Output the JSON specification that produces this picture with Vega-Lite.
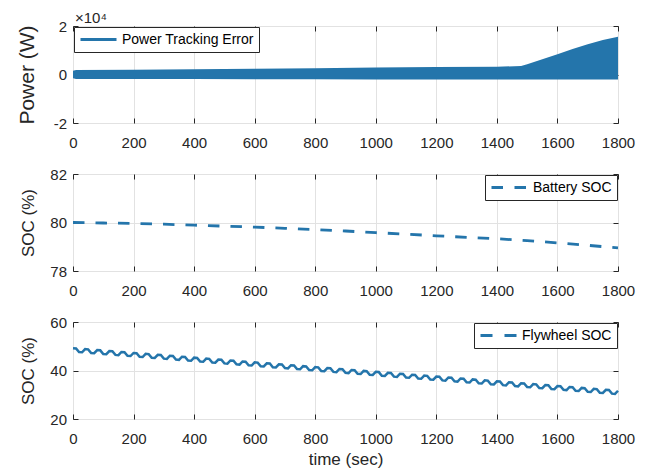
{
  "$schema": "https://vega.github.io/schema/vega-lite/v6.json",
  "padding": {"left": 15, "top": 10, "right": 10, "bottom": 5},
  "background": "white",
  "bounds": "flush",
  "spacing": 51,
  "config": {
    "font": "Liberation Sans",
    "view": {"stroke": "#262626", "strokeWidth": 1},
    "axis": {
      "labelFont": "Liberation Sans", "labelFontSize": 15, "labelColor": "#262626",
      "titleFont": "Liberation Sans", "titleFontWeight": "normal", "titleColor": "#262626",
      "tickColor": "#262626", "gridColor": "#e2e2e2", "domain": false, "labelFlush": false, "labelOverlap": false, "format": "d"
    },
    "legend": {
      "labelFont": "Liberation Sans", "labelFontSize": 14, "labelColor": "#000000",
      "strokeColor": "#262626", "fillColor": "white", "padding": 5, "offset": 1,
      "symbolStrokeWidth": 3, "symbolSize": 144, "labelOffset": 28, "cornerRadius": 0
    }
  },
  "datasets": {
    "power": [
      {"t": 0, "lo": -1500, "hi": 1500},
      {"t": 10, "lo": -1900, "hi": 1900},
      {"t": 200, "lo": -1900, "hi": 2000},
      {"t": 400, "lo": -1900, "hi": 2200},
      {"t": 600, "lo": -2000, "hi": 2400},
      {"t": 800, "lo": -2000, "hi": 2600},
      {"t": 1000, "lo": -2100, "hi": 2900},
      {"t": 1200, "lo": -2100, "hi": 3100},
      {"t": 1400, "lo": -2100, "hi": 3200},
      {"t": 1480, "lo": -2100, "hi": 3500},
      {"t": 1500, "lo": -2100, "hi": 4200},
      {"t": 1550, "lo": -2100, "hi": 6300},
      {"t": 1600, "lo": -2100, "hi": 8400},
      {"t": 1650, "lo": -2100, "hi": 10500},
      {"t": 1700, "lo": -2100, "hi": 12500},
      {"t": 1750, "lo": -2100, "hi": 14200},
      {"t": 1800, "lo": -2100, "hi": 15600}
    ],
    "battery": [
      {"t": 0, "v": 80.00}, {"t": 100, "v": 79.98}, {"t": 200, "v": 79.96}, {"t": 300, "v": 79.93},
      {"t": 400, "v": 79.89}, {"t": 500, "v": 79.85}, {"t": 600, "v": 79.81}, {"t": 700, "v": 79.76},
      {"t": 800, "v": 79.71}, {"t": 900, "v": 79.65}, {"t": 1000, "v": 79.58}, {"t": 1100, "v": 79.52},
      {"t": 1200, "v": 79.45}, {"t": 1300, "v": 79.39}, {"t": 1400, "v": 79.33}, {"t": 1500, "v": 79.25},
      {"t": 1600, "v": 79.16}, {"t": 1700, "v": 79.06}, {"t": 1800, "v": 78.95}
    ],
    "flywheel": [
      {"t":0,"v":49.2},{"t":10,"v":49.1},{"t":20,"v":47.61},{"t":30,"v":47.51},
      {"t":40,"v":48.81},{"t":50,"v":48.71},{"t":60,"v":47.22},{"t":70,"v":47.12},
      {"t":80,"v":48.42},{"t":90,"v":48.32},{"t":100,"v":46.83},{"t":110,"v":46.73},
      {"t":120,"v":48.03},{"t":130,"v":47.93},{"t":140,"v":46.44},{"t":150,"v":46.34},
      {"t":160,"v":47.64},{"t":170,"v":47.54},{"t":180,"v":46.05},{"t":190,"v":45.95},
      {"t":200,"v":47.25},{"t":210,"v":47.15},{"t":220,"v":45.66},{"t":230,"v":45.56},
      {"t":240,"v":46.86},{"t":250,"v":46.76},{"t":260,"v":45.27},{"t":270,"v":45.17},
      {"t":280,"v":46.47},{"t":290,"v":46.37},{"t":300,"v":44.88},{"t":310,"v":44.78},
      {"t":320,"v":46.08},{"t":330,"v":45.98},{"t":340,"v":44.49},{"t":350,"v":44.39},
      {"t":360,"v":45.69},{"t":370,"v":45.59},{"t":380,"v":44.10},{"t":390,"v":44.00},
      {"t":400,"v":45.30},{"t":410,"v":45.20},{"t":420,"v":43.71},{"t":430,"v":43.61},
      {"t":440,"v":44.91},{"t":450,"v":44.81},{"t":460,"v":43.32},{"t":470,"v":43.22},
      {"t":480,"v":44.52},{"t":490,"v":44.42},{"t":500,"v":42.93},{"t":510,"v":42.83},
      {"t":520,"v":44.13},{"t":530,"v":44.03},{"t":540,"v":42.54},{"t":550,"v":42.44},
      {"t":560,"v":43.74},{"t":570,"v":43.64},{"t":580,"v":42.15},{"t":590,"v":42.05},
      {"t":600,"v":43.35},{"t":610,"v":43.25},{"t":620,"v":41.76},{"t":630,"v":41.66},
      {"t":640,"v":42.96},{"t":650,"v":42.86},{"t":660,"v":41.37},{"t":670,"v":41.27},
      {"t":680,"v":42.57},{"t":690,"v":42.47},{"t":700,"v":40.98},{"t":710,"v":40.88},
      {"t":720,"v":42.18},{"t":730,"v":42.08},{"t":740,"v":40.59},{"t":750,"v":40.49},
      {"t":760,"v":41.79},{"t":770,"v":41.69},{"t":780,"v":40.20},{"t":790,"v":40.10},
      {"t":800,"v":41.40},{"t":810,"v":41.30},{"t":820,"v":39.81},{"t":830,"v":39.71},
      {"t":840,"v":41.01},{"t":850,"v":40.91},{"t":860,"v":39.42},{"t":870,"v":39.32},
      {"t":880,"v":40.62},{"t":890,"v":40.52},{"t":900,"v":39.03},{"t":910,"v":38.93},
      {"t":920,"v":40.23},{"t":930,"v":40.13},{"t":940,"v":38.64},{"t":950,"v":38.54},
      {"t":960,"v":39.84},{"t":970,"v":39.74},{"t":980,"v":38.25},{"t":990,"v":38.15},
      {"t":1000,"v":39.45},{"t":1010,"v":39.35},{"t":1020,"v":37.86},{"t":1030,"v":37.76},
      {"t":1040,"v":39.06},{"t":1050,"v":38.96},{"t":1060,"v":37.47},{"t":1070,"v":37.37},
      {"t":1080,"v":38.67},{"t":1090,"v":38.57},{"t":1100,"v":37.08},{"t":1110,"v":36.98},
      {"t":1120,"v":38.28},{"t":1130,"v":38.18},{"t":1140,"v":36.69},{"t":1150,"v":36.59},
      {"t":1160,"v":37.89},{"t":1170,"v":37.79},{"t":1180,"v":36.30},{"t":1190,"v":36.20},
      {"t":1200,"v":37.50},{"t":1210,"v":37.40},{"t":1220,"v":35.91},{"t":1230,"v":35.81},
      {"t":1240,"v":37.11},{"t":1250,"v":37.01},{"t":1260,"v":35.52},{"t":1270,"v":35.42},
      {"t":1280,"v":36.72},{"t":1290,"v":36.62},{"t":1300,"v":35.13},{"t":1310,"v":35.03},
      {"t":1320,"v":36.33},{"t":1330,"v":36.23},{"t":1340,"v":34.74},{"t":1350,"v":34.64},
      {"t":1360,"v":35.94},{"t":1370,"v":35.84},{"t":1380,"v":34.35},{"t":1390,"v":34.25},
      {"t":1400,"v":35.55},{"t":1410,"v":35.45},{"t":1420,"v":33.96},{"t":1430,"v":33.86},
      {"t":1440,"v":35.16},{"t":1450,"v":35.06},{"t":1460,"v":33.57},{"t":1470,"v":33.47},
      {"t":1480,"v":34.77},{"t":1490,"v":34.67},{"t":1500,"v":33.18},{"t":1510,"v":33.08},
      {"t":1520,"v":34.38},{"t":1530,"v":34.28},{"t":1540,"v":32.79},{"t":1550,"v":32.69},
      {"t":1560,"v":33.99},{"t":1570,"v":33.89},{"t":1580,"v":32.40},{"t":1590,"v":32.30},
      {"t":1600,"v":33.60},{"t":1610,"v":33.50},{"t":1620,"v":32.01},{"t":1630,"v":31.91},
      {"t":1640,"v":33.21},{"t":1650,"v":33.11},{"t":1660,"v":31.62},{"t":1670,"v":31.52},
      {"t":1680,"v":32.82},{"t":1690,"v":32.72},{"t":1700,"v":31.23},{"t":1710,"v":31.13},
      {"t":1720,"v":32.43},{"t":1730,"v":32.33},{"t":1740,"v":30.84},{"t":1750,"v":30.74},
      {"t":1760,"v":32.04},{"t":1770,"v":31.94},{"t":1780,"v":30.45},{"t":1790,"v":30.35},
      {"t":1800,"v":31.65}
    ]
  },
  "vconcat": [
    {
      "width": 545, "height": 97,
      "title": {"text": "×10⁴", "anchor": "start", "frame": "group", "fontSize": 15, "fontWeight": "normal", "color": "#262626", "font": "Liberation Sans", "offset": -7, "dx": 2},
      "data": {"name": "power"},
      "layer": [
        {
          "mark": {"type": "area"},
          "encoding": {
            "x": {"field": "t", "type": "quantitative", "scale": {"domain": [0, 1800], "nice": false},
                  "axis": {"values": [0,200,400,600,800,1000,1200,1400,1600,1800], "title": null, "grid": true, "tickSize": -5, "labelPadding": 17}},
            "y": {"field": "hi", "type": "quantitative", "scale": {"domain": [-20000, 20000], "nice": false},
                  "axis": {"values": [-20000, 0, 20000], "labelExpr": "datum.value / 10000", "title": "Power (W)", "titleFontSize": 21, "titleFontWeight": "normal", "titlePadding": 16, "grid": true, "tickSize": -5, "labelPadding": 11.5}},
            "y2": {"field": "lo"},
            "color": {"datum": "Power Tracking Error", "type": "nominal", "scale": {"range": ["#2475ab"]},
                      "legend": {"orient": "top-left", "title": null, "symbolType": "M-1,0H5", "symbolStrokeColor": "#2475ab", "symbolFillColor": "transparent"}}
          }
        },
        {
          "mark": {"type": "area", "opacity": 0},
          "encoding": {
            "x": {"field": "t", "type": "quantitative", "scale": {"domain": [0, 1800], "nice": false},
                  "axis": {"orient": "top", "values": [0,200,400,600,800,1000,1200,1400,1600,1800], "labels": false, "title": null, "grid": false, "tickSize": -5}},
            "y": {"field": "hi", "type": "quantitative", "scale": {"domain": [-20000, 20000], "nice": false},
                  "axis": {"orient": "right", "values": [-20000, 0, 20000], "labels": false, "title": null, "grid": false, "tickSize": -5}}
          }
        }
      ],
      "resolve": {"axis": {"x": "independent", "y": "independent"}}
    },
    {
      "width": 545, "height": 97,
      "data": {"name": "battery"},
      "layer": [
        {
          "mark": {"type": "line", "strokeWidth": 2.8, "strokeDash": [11.5, 11]},
          "encoding": {
            "x": {"field": "t", "type": "quantitative", "scale": {"domain": [0, 1800], "nice": false},
                  "axis": {"values": [0,200,400,600,800,1000,1200,1400,1600,1800], "title": null, "grid": true, "tickSize": -5, "labelPadding": 17}},
            "y": {"field": "v", "type": "quantitative", "scale": {"domain": [78, 82], "nice": false, "zero": false},
                  "axis": {"values": [78, 80, 82], "title": "SOC (%)", "titleFontSize": 17, "titleFontWeight": "normal", "titlePadding": 12, "grid": true, "tickSize": -5, "labelPadding": 11.5}},
            "color": {"datum": "Battery SOC", "type": "nominal", "scale": {"range": ["#2475ab"]},
                      "legend": {"orient": "top-right", "title": null, "symbolType": "M-1,0H4.75", "symbolDash": [11.5, 11.5]}}
          }
        },
        {
          "mark": {"type": "line", "opacity": 0},
          "encoding": {
            "x": {"field": "t", "type": "quantitative", "scale": {"domain": [0, 1800], "nice": false},
                  "axis": {"orient": "top", "values": [0,200,400,600,800,1000,1200,1400,1600,1800], "labels": false, "title": null, "grid": false, "tickSize": -5}},
            "y": {"field": "v", "type": "quantitative", "scale": {"domain": [78, 82], "nice": false, "zero": false},
                  "axis": {"orient": "right", "values": [78, 80, 82], "labels": false, "title": null, "grid": false, "tickSize": -5}}
          }
        }
      ],
      "resolve": {"axis": {"x": "independent", "y": "independent"}}
    },
    {
      "width": 545, "height": 97,
      "data": {"name": "flywheel"},
      "layer": [
        {
          "mark": {"type": "line", "strokeWidth": 2.5},
          "encoding": {
            "x": {"field": "t", "type": "quantitative", "scale": {"domain": [0, 1800], "nice": false},
                  "axis": {"values": [0,200,400,600,800,1000,1200,1400,1600,1800], "title": "time (sec)", "titleFontSize": 17, "titleFontWeight": "normal", "titlePadding": 5, "grid": true, "tickSize": -5, "labelPadding": 17}},
            "y": {"field": "v", "type": "quantitative", "scale": {"domain": [20, 60], "nice": false, "zero": false},
                  "axis": {"values": [20, 40, 60], "title": "SOC (%)", "titleFontSize": 17, "titleFontWeight": "normal", "titlePadding": 12, "grid": true, "tickSize": -5, "labelPadding": 11.5}},
            "color": {"datum": "Flywheel SOC", "type": "nominal", "scale": {"range": ["#2475ab"]},
                      "legend": {"orient": "top-right", "title": null, "symbolType": "M-1,0H5", "symbolDash": [12, 12]}}
          }
        },
        {
          "mark": {"type": "line", "opacity": 0},
          "encoding": {
            "x": {"field": "t", "type": "quantitative", "scale": {"domain": [0, 1800], "nice": false},
                  "axis": {"orient": "top", "values": [0,200,400,600,800,1000,1200,1400,1600,1800], "labels": false, "title": null, "grid": false, "tickSize": -5}},
            "y": {"field": "v", "type": "quantitative", "scale": {"domain": [20, 60], "nice": false, "zero": false},
                  "axis": {"orient": "right", "values": [20, 40, 60], "labels": false, "title": null, "grid": false, "tickSize": -5}}
          }
        }
      ],
      "resolve": {"axis": {"x": "independent", "y": "independent"}}
    }
  ],
  "resolve": {"scale": {"color": "independent"}, "legend": {"color": "independent"}}
}
